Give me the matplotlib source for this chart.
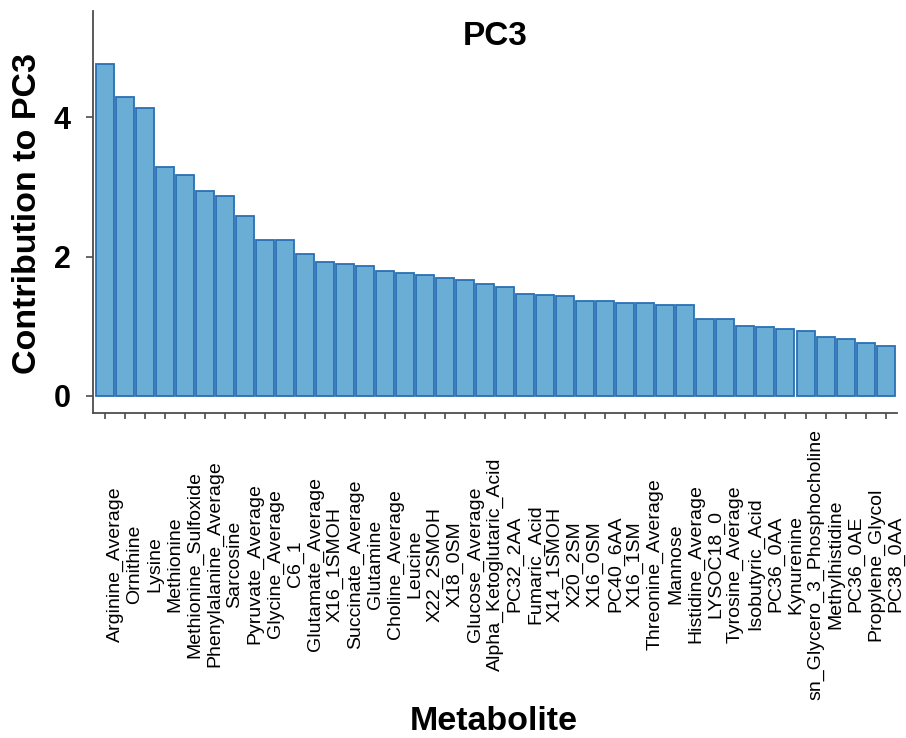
import matplotlib
matplotlib.use('Agg')
import matplotlib.pyplot as plt
import matplotlib.transforms as mtransforms

plt.rcParams['font.family'] = ['Liberation Sans', 'DejaVu Sans']

metabolitos = ['Arginine_Average', 'Ornithine', 'Lysine', 'Methionine',
               'Methionine_Sulfoxide', 'Phenylalanine_Average', 'Sarcosine',
               'Pyruvate_Average', 'Glycine_Average', 'C6_1', 'Glutamate_Average',
               'X16_1SMOH', 'Succinate_Average', 'Glutamine', 'Choline_Average',
               'Leucine', 'X22_2SMOH', 'X18_0SM', 'Glucose_Average',
               'Alpha_Ketoglutaric_Acid', 'PC32_2AA', 'Fumaric_Acid', 'X14_1SMOH',
               'X20_2SM', 'X16_0SM', 'PC40_6AA', 'X16_1SM', 'Threonine_Average',
               'Mannose', 'Histidine_Average', 'LYSOC18_0', 'Tyrosine_Average',
               'Isobutyric_Acid', 'PC36_0AA', 'Kynurenine',
               'sn_Glycero_3_Phosphocholine', 'Methylhistidine', 'PC36_0AE',
               'Propylene_Glycol', 'PC38_0AA']
contribuicao = [4.77, 4.29, 4.13, 3.29, 3.17, 2.95, 2.87, 2.58, 2.24, 2.24,
                2.04, 1.92, 1.89, 1.87, 1.80, 1.76, 1.74, 1.69, 1.67, 1.61,
                1.57, 1.47, 1.45, 1.43, 1.37, 1.37, 1.33, 1.33, 1.31, 1.31,
                1.11, 1.11, 1.01, 0.99, 0.96, 0.93, 0.84, 0.82, 0.76, 0.72]
marcas_y = [0, 2, 4]

fig = plt.figure(figsize=(9.06, 7.38), dpi=100)
ax = fig.add_axes([0.1026, 0.4404, 0.887, 0.5447])

x = list(range(len(metabolitos)))
ax.bar(x, contribuicao, width=0.9, color='#6aaed6', edgecolor='#2a6fb4', linewidth=1.3)

ax.set_xlim(-0.6, len(metabolitos) - 0.45)
ax.set_ylim(-0.245, 5.53)

for lado in ['top', 'right']:
    ax.spines[lado].set_visible(False)
for lado in ['left', 'bottom']:
    ax.spines[lado].set_color('#4d4d4d')
    ax.spines[lado].set_linewidth(1.3)

ax.set_yticks(marcas_y)
ax.set_yticklabels([str(v) for v in marcas_y], fontsize=22, fontweight='bold')
ax.tick_params(axis='y', length=5, width=1.2, color='#4d4d4d', pad=11)

ax.set_xticks(x)
ax.set_xticklabels([])
ax.tick_params(axis='x', length=4.5, width=1.2, color='#4d4d4d')

# nomes dos metabolitos centralizados na faixa abaixo do eixo
desloc = mtransforms.ScaledTranslation(10 / 100, 0, fig.dpi_scale_trans)
trans = mtransforms.blended_transform_factory(ax.transData, fig.transFigure) + desloc
for i, nome in enumerate(metabolitos):
    ax.text(i, 1 - 564 / 738, nome, rotation=90, ha='center', va='center',
            fontsize=14, transform=trans, clip_on=False)

fig.text(495 / 906, 1 - 45 / 738, 'PC3', ha='center', va='baseline',
         fontsize=24, fontweight='bold')
fig.text(28 / 906, 1 - 213 / 738, 'Contribution to PC3', rotation=90,
         ha='center', va='center', fontsize=24.5, fontweight='bold')
fig.text(494 / 906, 1 - 730 / 738, 'Metabolite', ha='center', va='baseline',
         fontsize=24.5, fontweight='bold')

plt.savefig('out.png', dpi=100)
